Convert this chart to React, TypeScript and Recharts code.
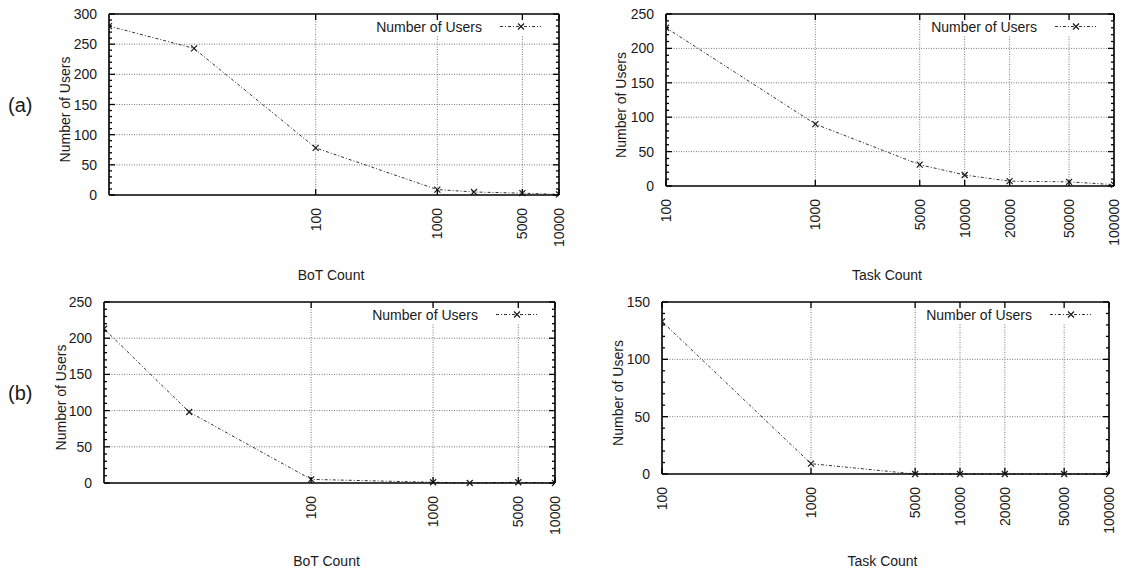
import React from 'react';
import { LineChart, Line, XAxis, YAxis, CartesianGrid, ReferenceLine } from 'recharts';

// values
const botCount = [2, 10, 100, 1000, 2000, 5000, 10000];
const taskCount = [100, 1000, 5000, 10000, 20000, 50000, 100000];
const usersBotA = [280, 243, 78, 9, 5, 3, 1];
const usersTaskA = [230, 90, 31, 16, 7, 6, 2];
const usersBotB = [213, 98, 5, 1, 0, 1, 0];
const usersTaskB = [133, 9, 0, 0, 0, 0, 0];

const botTicks = [100, 1000, 5000, 10000];
const taskTicks = [100, 1000, 5000, 10000, 20000, 50000, 100000];
const yTicks300 = [0, 50, 100, 150, 200, 250, 300];
const yTicks250 = [0, 50, 100, 150, 200, 250];
const yTicks150 = [0, 50, 100, 150];

const FONT = '"Liberation Sans", Arial, sans-serif';
const INK = '#1a1a1a';
const GRID = '#7a7a7a';
const FRAME = '#000';
const LINE_DASH = '3 2 1 2';

const Cross = (props: any) => {
  const { cx, cy, index } = props;
  if (cx == null || cy == null) return <g key={index} />;
  const r = 3;
  return (
    <path
      key={index}
      d={`M${cx - r},${cy - r}L${cx + r},${cy + r}M${cx - r},${cy + r}L${cx + r},${cy - r}`}
      stroke={INK}
      strokeWidth={1.2}
      fill="none"
    />
  );
};

type Box = { x: number; y: number; w: number; h: number };
type Plot = { left: number; right: number; top: number; bottom: number };

function Panel(props: {
  box: Box;
  plot: Plot;
  xs: number[];
  ys: number[];
  xTicks: number[];
  yTicks: number[];
  xLabel: string;
  xLabelDy: number;
  yLabelX: number;
  tag?: string;
}) {
  const { box, plot, xs, ys, xTicks, yTicks, xLabel, xLabelDy, yLabelX, tag } = props;
  const data = xs.map((x, i) => ({ x, users: ys[i] }));
  const yMax = yTicks[yTicks.length - 1];
  const minor = Array.from({ length: yMax / 10 + 1 }, (_, i) => i * 10);
  const xDomain = [xs[0], xs[xs.length - 1]];
  const pl = plot.left, pr = plot.right, pt = plot.top, pb = plot.bottom;
  const pw = pr - pl, ph = pb - pt;
  const midY = (pt + pb) / 2 + 5;
  const legY = pt + 12.5;

  // y ticks point inward on both the left border and the mirrored right border
  const leftTick = (p: any) => {
    const v = p.payload.value;
    const major = yTicks.includes(v);
    const len = major ? 6 : 3;
    return (
      <g key={p.index}>
        <line x1={p.x} x2={p.x + len} y1={p.y} y2={p.y} stroke={FRAME} strokeWidth={1.3} />
        <line x1={p.x + pw} x2={p.x + pw - len} y1={p.y} y2={p.y} stroke={FRAME} strokeWidth={1.3} />
        {major && (
          <text x={p.x - 12} y={p.y} textAnchor="end" dominantBaseline="central" fontSize={14} fontFamily={FONT} fill={INK}>
            {v}
          </text>
        )}
      </g>
    );
  };
  const bottomTick = (p: any) => (
    <g key={p.index}>
      <line x1={p.x} x2={p.x} y1={p.y} y2={p.y - 6} stroke={FRAME} strokeWidth={1.3} />
      <line x1={p.x} x2={p.x} y1={p.y - ph} y2={p.y - ph + 6} stroke={FRAME} strokeWidth={1.3} />
      <text
        x={p.x}
        y={p.y + 13}
        transform={`rotate(-90, ${p.x}, ${p.y + 13})`}
        textAnchor="end"
        dominantBaseline="central"
        fontSize={14}
        fontFamily={FONT}
        fill={INK}
      >
        {p.payload.value}
      </text>
    </g>
  );

  return (
    <div style={{ position: 'absolute', left: box.x, top: box.y }}>
      <LineChart
        width={box.w}
        height={box.h}
        data={data}
        margin={{ top: pt, right: box.w - pr, left: 0, bottom: 0 }}
      >
        <CartesianGrid horizontal={false} stroke={GRID} strokeDasharray="1 1.5" />
        {yTicks.slice(1, -1).map((v) => (
          <ReferenceLine key={v} y={v} stroke={GRID} strokeDasharray="1 1.5" />
        ))}
        <XAxis
          dataKey="x"
          type="number"
          scale="log"
          domain={xDomain}
          allowDataOverflow
          ticks={xTicks}
          interval={0}
          height={box.h - pb}
          tickSize={0}
          tickMargin={0}
          tickLine={false}
          axisLine={false}
          tick={bottomTick}
        />
        <YAxis
          type="number"
          domain={[0, yMax]}
          ticks={minor}
          interval={0}
          width={pl}
          tickSize={0}
          tickMargin={0}
          tickLine={false}
          axisLine={false}
          tick={leftTick}
        />
        <g>
          <rect x={pr - 188} y={pt + 4} width={186} height={17} fill="#fff" />
          <text x={pr - 77} y={legY} textAnchor="end" dominantBaseline="central" fontSize={14} fontFamily={FONT} fill={INK}>
            Number of Users
          </text>
          <line x1={pr - 59} x2={pr - 18} y1={legY} y2={legY} stroke="#333" strokeWidth={1} strokeDasharray={LINE_DASH} />
          <Cross cx={pr - 38} cy={legY} index="leg" />
        </g>
        <Line
          type="linear"
          dataKey="users"
          stroke="#333"
          strokeWidth={1}
          strokeDasharray={LINE_DASH}
          dot={Cross}
          activeDot={false}
          isAnimationActive={false}
        />
        {/* plot frame drawn as four solid reference lines at the domain edges */}
        <ReferenceLine x={xDomain[0]} stroke={FRAME} strokeWidth={1.6} ifOverflow="visible" />
        <ReferenceLine x={xDomain[1]} stroke={FRAME} strokeWidth={1.6} ifOverflow="visible" />
        <ReferenceLine y={0} stroke={FRAME} strokeWidth={1.6} ifOverflow="visible" />
        <ReferenceLine y={yMax} stroke={FRAME} strokeWidth={1.6} ifOverflow="visible" />
        <text x={(pl + pr) / 2 - 3} y={pb + xLabelDy} textAnchor="middle" fontSize={14} fontFamily={FONT} fill={INK}>
          {xLabel}
        </text>
        <text
          x={yLabelX}
          y={midY}
          transform={`rotate(-90, ${yLabelX}, ${midY})`}
          textAnchor="middle"
          dominantBaseline="central"
          fontSize={14}
          fontFamily={FONT}
          fill={INK}
        >
          Number of Users
        </text>
        {tag && (
          <text x={8} y={(pt + pb) / 2} dominantBaseline="central" fontSize={20} fontFamily={FONT} fill={INK}>
            {tag}
          </text>
        )}
      </LineChart>
    </div>
  );
}

export default function App() {
  return (
    <div style={{ position: 'absolute', left: 0, top: 0, width: 1124, height: 571, background: '#fff' }}>
      <Panel
        box={{ x: 0, y: 0, w: 570, h: 290 }}
        plot={{ left: 109, right: 559, top: 14, bottom: 195 }}
        xs={botCount}
        ys={usersBotA}
        xTicks={botTicks}
        yTicks={yTicks300}
        xLabel="BoT Count"
        xLabelDy={85}
        yLabelX={65}
        tag="(a)"
      />
      <Panel
        box={{ x: 570, y: 0, w: 554, h: 290 }}
        plot={{ left: 96, right: 544, top: 14, bottom: 186 }}
        xs={taskCount}
        ys={usersTaskA}
        xTicks={taskTicks}
        yTicks={yTicks250}
        xLabel="Task Count"
        xLabelDy={94}
        yLabelX={51}
      />
      <Panel
        box={{ x: 0, y: 290, w: 570, h: 281 }}
        plot={{ left: 104, right: 555, top: 12, bottom: 193 }}
        xs={botCount}
        ys={usersBotB}
        xTicks={botTicks}
        yTicks={yTicks250}
        xLabel="BoT Count"
        xLabelDy={83}
        yLabelX={61}
        tag="(b)"
      />
      <Panel
        box={{ x: 570, y: 290, w: 554, h: 281 }}
        plot={{ left: 92, right: 539, top: 12, bottom: 184 }}
        xs={taskCount}
        ys={usersTaskB}
        xTicks={taskTicks}
        yTicks={yTicks150}
        xLabel="Task Count"
        xLabelDy={92}
        yLabelX={48}
      />
    </div>
  );
}
